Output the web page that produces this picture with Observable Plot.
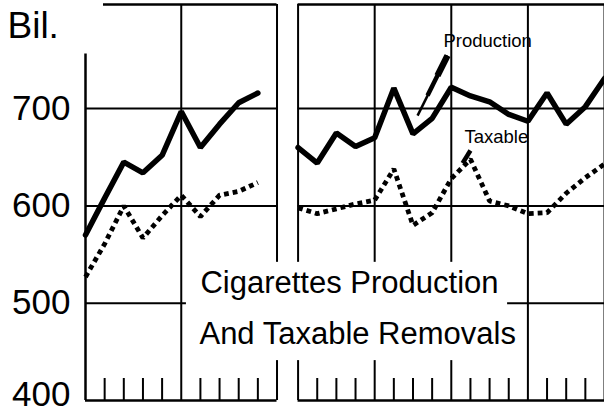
<!DOCTYPE html>
<html>
<head>
<meta charset="utf-8">
<script src="https://cdn.jsdelivr.net/npm/d3@7"></script>
<script src="https://cdn.jsdelivr.net/npm/@observablehq/plot@0.6"></script>
<style>
  html, body { margin: 0; padding: 0; background: #fff; }
</style>
</head>
<body>
<div id="chart"></div>
<script>
// ---- data ----
// left panel: annual points (index 0..9), right panel: points (index 0..16)
const leftIndex = [0, 1, 2, 3, 4, 5, 6, 7, 8, 9];
const leftProduction = [570, 608, 645, 634, 652, 697, 660, 684, 706, 716];
const leftTaxable    = [527, 561, 600, 567, 590, 611, 589, 611, 615, 624];

const rightIndex = [0, 1, 2, 3, 4, 5, 6, 7, 8, 9, 10, 11, 12, 13, 14, 15, 16];
const rightProduction = [660, 644, 675, 661, 670, 721, 674, 690, 722, 713, 707, 694, 687, 716, 684, 702, 731];
const rightTaxable    = [598, 592, 597, 602, 606, 638, 580, 593, 628, 648, 605, 600, 592, 593, 613, 629, 643];

const yTicksUpper = [500, 600, 700];
const yTickBottom = [400];
const gridValues = [500, 600, 700];
const unitLabel = "Bil.";
const titleLines = ["Cigarettes Production", "And Taxable Removals"];
const seriesLabels = ["Production", "Taxable"];

// panel layout in x-scale units: left panel 0..10, right panel 11.1..27.1
const leftSlots = 10;
const rightOffset = 11.1;
const rightSlots = 16;
const yTop = 807;

// ---- build tables ----
const leftProd = leftIndex.map((i, k) => ({x: i, y: leftProduction[k]}));
const leftTax = leftIndex.map((i, k) => ({x: i, y: leftTaxable[k]}));
const rightProd = rightIndex.map((j, k) => ({x: rightOffset + j, y: rightProduction[k]}));
const rightTax = rightIndex.map((j, k) => ({x: rightOffset + j, y: rightTaxable[k]}));

const panels = [{x1: 0, x2: leftSlots}, {x1: rightOffset, x2: rightOffset + rightSlots}];
const hGrid = [];
for (const p of panels) for (const v of gridValues) hGrid.push({y: v, x1: p.x1, x2: p.x2});
const bottomLine = panels.map(p => ({y: 400, x1: p.x1, x2: p.x2}));
const topLine = [{y: yTop, x1: 0.94, x2: leftSlots}, {y: yTop, x1: rightOffset, x2: rightOffset + rightSlots}];

const majorLines = [5, leftSlots];
for (let j = 0; j <= rightSlots; j += 4) majorLines.push(rightOffset + j);
const minorTicks = [];
for (let i = 1; i < leftSlots; i++) if (i % 5) minorTicks.push(i);
for (let j = 1; j < rightSlots; j++) if (j % 4) minorTicks.push(rightOffset + j);

const legendBox = [{x1: 5.27, x2: 22.04, y1: 441, y2: 542}];
const titleText = [
  {x: 6.0, y: 520.7, t: titleLines[0]},
  {x: 5.95, y: 468.3, t: titleLines[1]}
];
const seriesText = [
  {x: 18.69, y: 769.9, t: seriesLabels[0]},
  {x: 19.79, y: 671.2, t: seriesLabels[1]}
];
const prodLeader = [
  {x1: 18.90, y1: 754.5, x2: 17.34, y2: 692.8, w: 2.5},
  {x1: 18.90, y1: 754.5, x2: 17.86, y2: 713.4, w: 4.5},
  {x1: 18.90, y1: 754.5, x2: 18.38, y2: 733.9, w: 6.5}
];
const taxLeader = [{x1: 20.10, y1: 657, x2: 19.69, y2: 644}];

const font = "'Liberation Sans', Arial, Helvetica, sans-serif";

const chart = Plot.plot({
  width: 604,
  height: 416,
  marginLeft: 85,
  marginRight: 0,
  marginTop: 4,
  marginBottom: 16,
  style: {fontFamily: font, background: "#fff", color: "#000"},
  x: {domain: [0, rightOffset + rightSlots], axis: null},
  y: {domain: [400, yTop]},
  marks: [
    Plot.ruleY(hGrid, {y: "y", x1: "x1", x2: "x2", stroke: "#000", strokeWidth: 2}),
    Plot.ruleY(bottomLine, {y: "y", x1: "x1", x2: "x2", stroke: "#000", strokeWidth: 2.5}),
    Plot.ruleY(topLine, {y: "y", x1: "x1", x2: "x2", stroke: "#000", strokeWidth: 2.5}),
    Plot.ruleX([0], {x: d => d, y1: 400, y2: 756, stroke: "#000", strokeWidth: 2.5}),
    Plot.ruleX(majorLines, {x: d => d, y1: 400, y2: yTop, stroke: "#000", strokeWidth: 2}),
    Plot.rect(legendBox, {x1: "x1", x2: "x2", y1: "y1", y2: "y2", fill: "#fff"}),
    Plot.ruleX(minorTicks, {x: d => d, y1: 400, y2: 422.6, stroke: "#000", strokeWidth: 2}),
    Plot.line(leftTax, {x: "x", y: "y", stroke: "#000", strokeWidth: 4.8, strokeDasharray: "4.8,4", strokeLinecap: "butt", strokeLinejoin: "miter"}),
    Plot.line(rightTax, {x: "x", y: "y", stroke: "#000", strokeWidth: 4.8, strokeDasharray: "4.8,4", strokeLinecap: "butt", strokeLinejoin: "miter"}),
    Plot.line(leftProd, {x: "x", y: "y", stroke: "#000", strokeWidth: 5.5, strokeLinejoin: "miter"}),
    Plot.line(rightProd, {x: "x", y: "y", stroke: "#000", strokeWidth: 5.5, strokeLinejoin: "miter"}),
    Plot.link(prodLeader, {x1: "x1", y1: "y1", x2: "x2", y2: "y2", stroke: "#000", strokeWidth: d => d.w, strokeLinecap: "butt"}),
    Plot.link(taxLeader, {x1: "x1", y1: "y1", x2: "x2", y2: "y2", stroke: "#000", strokeWidth: 4.5}),
    Plot.axisY({ticks: yTicksUpper, tickSize: 0, tickPadding: 15, fontSize: 35, fontFamily: font, label: null, tickFormat: d => String(d)}),
    Plot.axisY({ticks: yTickBottom, tickSize: 0, tickPadding: 15, dy: -6, fontSize: 35, fontFamily: font, label: null, tickFormat: d => String(d)}),
    Plot.text([unitLabel], {frameAnchor: "top-left", text: d => d, dx: -78, dy: 7, textAnchor: "start", lineAnchor: "top", fontSize: 37, fontFamily: font, fill: "#000"}),
    Plot.text(titleText, {x: "x", y: "y", text: "t", textAnchor: "start", lineAnchor: "middle", fontSize: 31, fontFamily: font, fill: "#000"}),
    Plot.text(seriesText, {x: "x", y: "y", text: "t", textAnchor: "start", lineAnchor: "middle", fontSize: 18.5, fontFamily: font, fill: "#000"})
  ]
});
document.getElementById("chart").appendChild(chart);
</script>
</body>
</html>
